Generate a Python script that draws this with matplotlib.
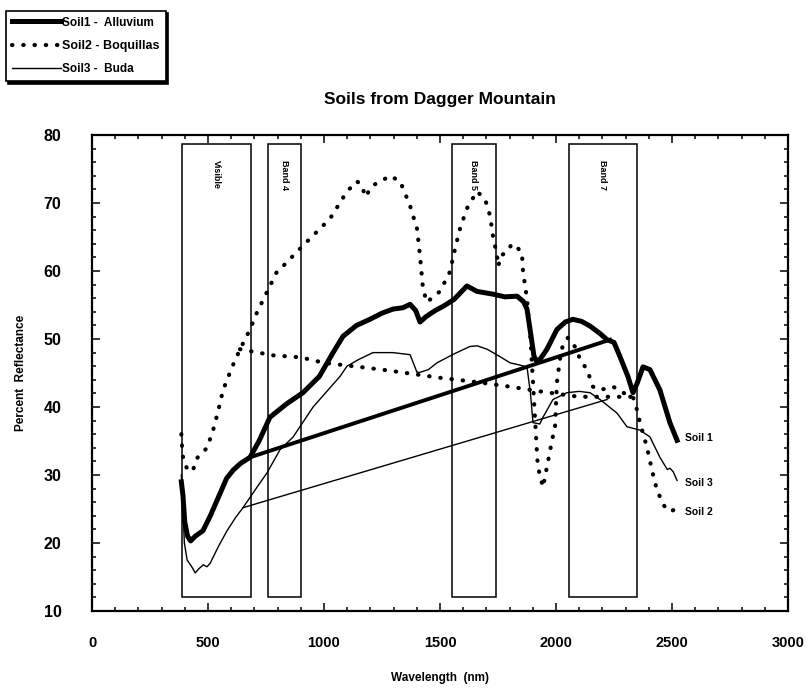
import numpy as np
import matplotlib
matplotlib.use('Agg')
import matplotlib.pyplot as plt
from matplotlib.patches import Rectangle

plt.rcParams['font.family'] = ['Liberation Sans', 'DejaVu Sans']

# Soil spectra (wavelength nm, percent reflectance)
soil1_wl = [385, 392, 400, 412, 425, 445, 478, 510, 552, 580, 608, 640, 681, 720, 767, 840, 909, 980,
            1039, 1082, 1140, 1198, 1250, 1297, 1340, 1371, 1395, 1414, 1440, 1480, 1513, 1560, 1616,
            1660, 1728, 1780, 1832, 1860, 1875, 1890, 1905, 1915, 1931, 1961, 2004, 2040, 2073, 2110,
            2147, 2190, 2220, 2250, 2276, 2310, 2332, 2350, 2375, 2405, 2448, 2491, 2522]
soil1_refl = [29, 27, 23, 21, 20.3, 21, 21.8, 24, 27.3, 29.5, 30.7, 31.7, 32.6, 35, 38.5, 40.5, 42.1, 44.5,
              48.0, 50.4, 52, 52.9, 53.8, 54.4, 54.6, 55.1, 54.2, 52.5, 53.3, 54.2, 54.8, 55.8, 57.8,
              57.0, 56.6, 56.2, 56.3, 55.5, 54.4, 51, 47.5, 46.8, 47.0, 48.5, 51.4, 52.5, 52.9, 52.6,
              51.9, 50.8, 49.9, 49.5, 47.4, 44.5, 42.1, 43.5, 45.9, 45.5, 42.5, 37.7, 35.1]
soil1_chord_wl = [681, 2233]
soil1_chord_refl = [32.6, 49.9]

soil2_wl = [385, 390, 400, 420, 435, 453, 496, 522, 543, 565, 603, 638, 681, 711, 754, 797, 823, 897,
            970, 1026, 1099, 1142, 1165, 1177, 1211, 1250, 1284, 1328, 1371, 1401, 1414, 1427, 1444,
            1470, 1500, 1543, 1565, 1586, 1616, 1659, 1694, 1716, 1728, 1746, 1752, 1759, 1789, 1810,
            1830, 1853, 1858, 1875, 1890, 1901, 1909, 1918, 1922, 1944, 1961, 1983, 1996, 2004, 2017,
            2030, 2052, 2090, 2103, 2134, 2159, 2190, 2246, 2289, 2332, 2349, 2362, 2392, 2414, 2435,
            2461, 2478, 2504, 2522]
soil2_refl = [36, 33, 31.5, 30.5, 30.7, 32.5, 34, 36.6, 39.3, 42.5, 45.8, 48.5, 51.4, 53.9, 56.9, 59.9, 60.7, 63.3,
              65.8, 67.7, 71.7, 73.2, 72.5, 70.9, 72.6, 73.3, 74.0, 73.2, 69.6, 66.2, 62.2, 57.3, 55.4,
              56.2, 57.0, 59.9, 63.3, 66.2, 69.2, 71.7, 70.6, 68.1, 65.2, 62.2, 60.7, 62.2, 62.8, 64.0,
              63.5, 62.8, 59.9, 55.9, 50, 43.6, 38.6, 33.2, 31.2, 28.2, 31.2, 35.1, 37.1, 43.6, 47.0,
              49.2, 50.2, 48.5, 47.0, 45.5, 43.0, 42.5, 43.0, 42.1, 41.5, 39.6, 37.7, 34.1, 30.7, 27.8,
              25.8, 24.8, 24.8, 25.2]
soil2_chord_wl = [638, 780, 900, 1000, 1250, 1500, 1650, 1800, 1950, 2100, 2230, 2332]
soil2_chord_refl = [48.5, 47.6, 47.3, 46.5, 45.5, 44.3, 43.7, 43.0, 42.2, 41.5, 41.5, 41.5]

soil3_wl = [385, 390, 398, 410, 430, 445, 460, 480, 495, 509, 545, 582, 620, 651, 711, 754, 810, 867,
            953, 1069, 1099, 1150, 1211, 1297, 1371, 1401, 1414, 1450, 1487, 1560, 1629, 1660, 1703,
            1759, 1802, 1840, 1875, 1890, 1901, 1930, 1944, 1987, 2047, 2100, 2147, 2190, 2263, 2306,
            2362, 2405, 2448, 2480, 2491, 2505, 2522]
soil3_refl = [30, 27, 20, 17.5, 16.5, 15.6, 16.2, 16.8, 16.5, 17.0, 19.5, 21.8, 23.8, 25.2, 28.2, 30.3, 33.7, 35.6,
              40, 44.5, 46, 47, 48, 48, 47.7, 45.1, 45.1, 45.5, 46.5, 47.8, 48.9, 49, 48.5,
              47.4, 46.5, 46.2, 45.9, 42, 37.7, 37.5, 38.5, 41.1, 42.1, 42.3, 42.1, 41.1, 39.1, 37.1,
              36.6, 35.6, 32.6, 30.8, 31, 30.5, 29.2]
soil3_chord_wl = [651, 2220]
soil3_chord_refl = [25.2, 41.1]

# sensor bands
band_names = ['Visible', 'Band 4', 'Band 5', 'Band 7']
band_lo = [388, 759, 1552, 2056]
band_hi = [685, 901, 1741, 2349]
box_bottom = 12
box_top = 78.7

legend_labels = ['Soil1 -  Alluvium', 'Soil2 - Boquillas', 'Soil3 -  Buda']
end_labels = ['Soil 1', 'Soil 3', 'Soil 2']
end_label_y = [35.4, 28.8, 24.5]

fig = plt.figure(figsize=(8.1, 6.9), dpi=100)
ax = fig.add_axes([0.1136, 0.1145, 0.8592, 0.6898])

for name, lo, hi in zip(band_names, band_lo, band_hi):
    ax.add_patch(Rectangle((lo, box_bottom), hi - lo, box_top - box_bottom,
                           fill=False, edgecolor='black', linewidth=1.1))
    ax.text((lo + hi) / 2, 76.3, name, rotation=-90, ha='center', va='top',
            fontsize=6.5, fontweight='bold')

l1, = ax.plot(soil1_wl, soil1_refl, color='black', linewidth=3.6, solid_joinstyle='round')
ax.plot(soil1_chord_wl, soil1_chord_refl, color='black', linewidth=2.8)

dots = (0, (0.1, 2.6))
l2, = ax.plot(soil2_wl, soil2_refl, color='black', linewidth=3.0, linestyle=dots, dash_capstyle='round')
ax.plot(soil2_chord_wl, soil2_chord_refl, color='black', linewidth=3.0, linestyle=dots, dash_capstyle='round')

l3, = ax.plot(soil3_wl, soil3_refl, color='black', linewidth=1.0)
ax.plot(soil3_chord_wl, soil3_chord_refl, color='black', linewidth=1.0)

for lab, yv in zip(end_labels, end_label_y):
    ax.text(2556, yv, lab, ha='left', va='center', fontsize=7.5, fontweight='bold')

ax.set_xlim(0, 3000)
ax.set_ylim(10, 80)
ax.set_xticks(np.arange(0, 3001, 500))
ax.set_xticks(np.arange(0, 3001, 100), minor=True)
ax.set_yticks(np.arange(10, 81, 10))
ax.set_yticks(np.arange(10, 81, 2), minor=True)
ax.tick_params(which='both', direction='in', top=True, right=True, width=1.1)
ax.tick_params(which='major', length=6)
ax.tick_params(which='minor', length=3)
ax.tick_params(axis='y', pad=22, labelsize=11.5)
ax.tick_params(axis='x', pad=18, labelsize=10.5)
for t in ax.get_xticklabels() + ax.get_yticklabels():
    t.set_fontweight('bold')
for s in ax.spines.values():
    s.set_linewidth(1.6)

ax.set_xlabel('Wavelength  (nm)', fontsize=8.5, fontweight='bold', labelpad=16)
ax.set_ylabel('Percent  Reflectance', fontsize=8.5, fontweight='bold', labelpad=12)
ax.set_title('Soils from Dagger Mountain', fontsize=12.5, fontweight='bold', pad=22)

leg = fig.legend([l1, l2, l3], legend_labels, loc='upper left', bbox_to_anchor=(0.004, 0.988),
                 fontsize=8.5, handlelength=4.2, handletextpad=0.1, labelspacing=0.95,
                 borderpad=0.5, borderaxespad=0.2, fancybox=False, framealpha=1,
                 shadow={'color': 'black', 'alpha': 1})
leg.get_frame().set_edgecolor('black')
leg.get_frame().set_linewidth(1.2)
for i, t in enumerate(leg.get_texts()):
    t.set_fontweight('bold')
    if i == 1:
        t.set_fontsize(9.0)

fig.savefig('out.png', dpi=100)
